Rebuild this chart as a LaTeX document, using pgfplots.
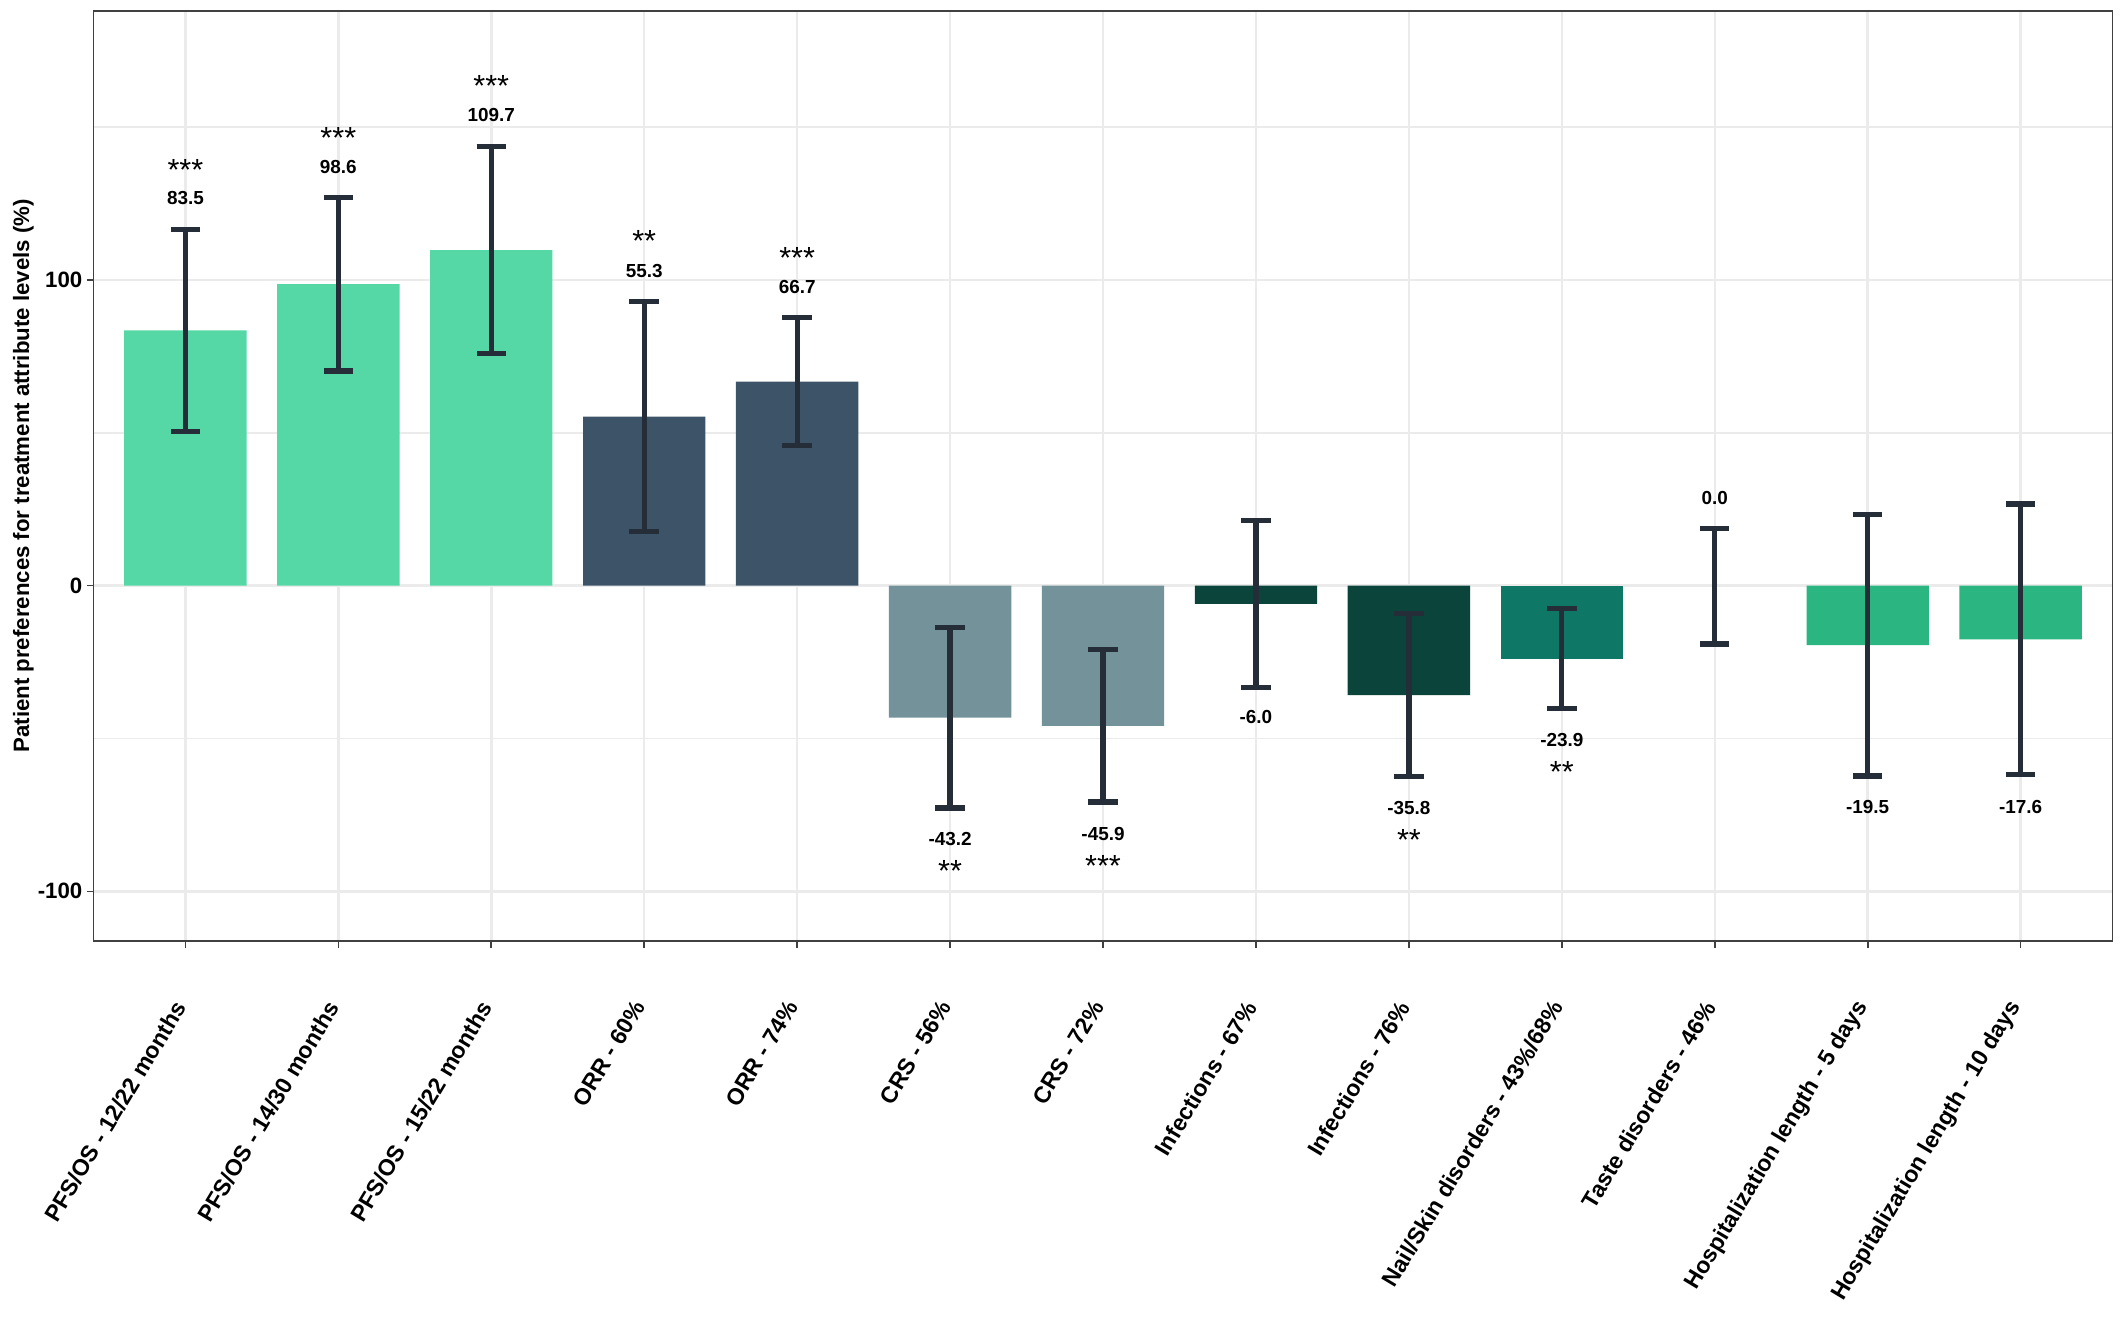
\documentclass[border=0pt]{standalone}
\usepackage{pgfplots}
\pgfplotsset{compat=1.18}
\usepackage{fontspec}
\setmainfont{Liberation Sans}
\definecolor{cLight}{HTML}{56D8A6}
\definecolor{cSlate}{HTML}{3D5468}
\definecolor{cGray}{HTML}{739299}
\definecolor{cDark}{HTML}{0A443A}
\definecolor{cTeal}{HTML}{0E7766}
\definecolor{cMed}{HTML}{2BB581}
\definecolor{cErr}{HTML}{252E38}
\definecolor{cGrid}{HTML}{EBEBEB}
\begin{document}
\begin{tikzpicture}
\begin{axis}[
  scale only axis,
  width=726.5pt, height=334.7pt,
  xmin=0.4, xmax=13.6,
  ymin=-116.2, ymax=188,
  xtick={1,...,13},
  xticklabels={PFS/OS - 12/22 months, PFS/OS - 14/30 months, PFS/OS - 15/22 months, ORR - 60\%, ORR - 74\%, CRS - 56\%, CRS - 72\%, Infections - 67\%, Infections - 76\%, Nail/Skin disorders - 43\%/68\%, Taste disorders - 46\%, Hospitalization length - 5 days, Hospitalization length - 10 days},
  xticklabel style={rotate=59, anchor=east, font=\bfseries\fontsize{8.3}{10}\selectfont, text=black},
  xticklabel shift=17pt,
  ytick={-100,0,100},
  minor ytick={-50,50,150},
  yticklabel style={font=\bfseries\fontsize{8}{10}\selectfont, inner sep=1.5pt},
  /pgf/number format/assume math mode=true,
  ylabel={Patient preferences for treatment attribute levels (\%)},
  every axis y label/.style={at={(axis description cs:0,0.5)}, xshift=-25.3pt, rotate=90, anchor=center, font=\bfseries\fontsize{8}{10}\selectfont},
  tick pos=left,
  grid=both,
  major grid style={cGrid, line width=0.9pt},
  minor grid style={cGrid, line width=0.6pt},
  axis line style={draw=black!75, line width=0.5pt},
  tick style={black!75, line width=0.6pt},
  tick align=outside,
  major tick length=2.4pt,
  minor tick length=0pt,
  clip=false,
]
% bars
\addplot[ybar, bar width=0.8, bar shift=0pt, fill=cLight, draw=none] coordinates {(1,83.5) (2,98.6) (3,109.7)};
\addplot[ybar, bar width=0.8, bar shift=0pt, fill=cSlate, draw=none] coordinates {(4,55.3) (5,66.7)};
\addplot[ybar, bar width=0.8, bar shift=0pt, fill=cGray, draw=none] coordinates {(6,-43.2) (7,-45.9)};
\addplot[ybar, bar width=0.8, bar shift=0pt, fill=cDark, draw=none] coordinates {(8,-6.0) (9,-35.8)};
\addplot[ybar, bar width=0.8, bar shift=0pt, fill=cTeal, draw=none] coordinates {(10,-23.9)};
\addplot[ybar, bar width=0.8, bar shift=0pt, fill=cMed, draw=none] coordinates {(12,-19.5) (13,-17.6)};
% error bars
\addplot[draw=none, mark=none,
  error bars/.cd, y dir=both, y explicit,
  error bar style={cErr, line width=1.9pt},
  error mark options={rotate=90, cErr, line width=1.9pt, mark size=5.3pt}]
  table[x=x, y=y, y error=e] {
x y e
1 83.5 33.0
2 98.6 28.4
3 109.7 33.9
4 55.3 37.7
5 66.7 20.9
6 -43.2 29.5
7 -45.9 24.9
8 -6.0 27.3
9 -35.8 26.6
10 -23.9 16.4
11 -0.25 18.85
12 -19.5 42.8
13 -17.6 44.3
};
% value labels
\addplot[draw=none, mark=none, nodes near coords, point meta=explicit symbolic,
  every node near coord/.style={anchor=center, font=\bfseries\fontsize{6.8}{8}\selectfont, text=black, inner sep=0pt}]
  table[x=x, y=y, meta=l] {
x y l
1 126.8 83.5
2 137.0 98.6
3 153.9 109.7
4 102.9 55.3
5 97.6 66.7
6 -82.9 -43.2
7 -81.2 -45.9
8 -43.0 -6.0
9 -72.7 -35.8
10 -50.6 -23.9
11 28.8 0.0
12 -72.3 -19.5
13 -72.3 -17.6
};
% significance stars
\addplot[draw=none, mark=none, nodes near coords, point meta=explicit symbolic,
  every node near coord/.style={anchor=center, font=\fontsize{11}{12}\selectfont, text=black, inner sep=0pt}]
  table[x=x, y=y, meta=l] {
x y l
1 135.8 ***
2 146.5 ***
3 163.3 ***
4 112.8 **
5 107.0 ***
6 -93.4 **
7 -91.6 ***
9 -83.2 **
10 -61.0 **
};
\end{axis}
\pgfresetboundingbox
\path[use as bounding box] ([shift={(-33.7pt,-139.6pt)}]current axis.south west) rectangle ([shift={(4.9pt,3.9pt)}]current axis.north east);
\end{tikzpicture}
\end{document}
